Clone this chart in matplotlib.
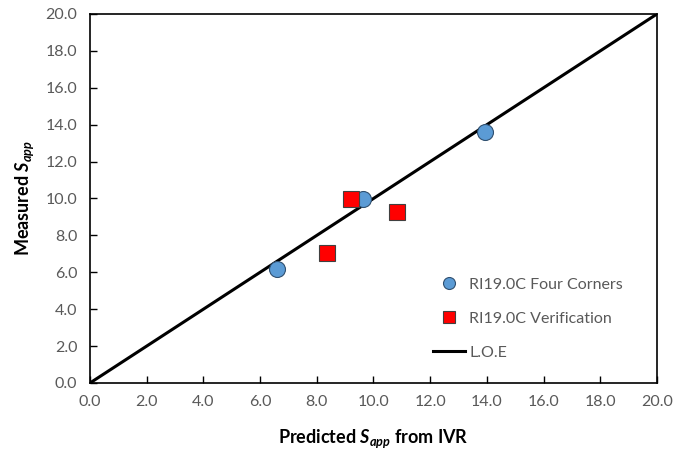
import matplotlib
matplotlib.use("Agg")
import matplotlib.pyplot as plt

plt.rcParams["font.family"] = ["Lato", "DejaVu Sans"]
plt.rcParams["mathtext.fontset"] = "custom"
plt.rcParams["mathtext.it"] = "Lato:italic:bold"
plt.rcParams["mathtext.rm"] = "Lato:bold"

# data
corners_pred = [6.61, 9.64, 13.93]
corners_meas = [6.18, 9.95, 13.62]
verif_pred = [8.35, 9.21, 10.82]
verif_meas = [7.03, 9.97, 9.28]
loe = [0.0, 20.0]
ticks = [0, 2, 4, 6, 8, 10, 12, 14, 16, 18, 20]

fig = plt.figure(figsize=(6.73, 4.54), dpi=100)
ax = fig.add_axes([0.1337, 0.1564, 0.8425, 0.8128])

ax.plot(loe, loe, color="black", lw=2.2, label="L.O.E", zorder=2)
ax.plot(corners_pred, corners_meas, "o", ms=11.5, mfc="#5b9bd5", mec="#2f4f6f",
        mew=0.8, label="RI19.0C Four Corners", zorder=3)
ax.plot(verif_pred, verif_meas, "s", ms=11.5, mfc="#ff0000", mec="#404040",
        mew=0.8, label="RI19.0C Verification", zorder=4)

ax.set_xlim(0, 20)
ax.set_ylim(0, 20)
ax.set_xticks(ticks)
ax.set_yticks(ticks)
ax.set_xticklabels([f"{t:.1f}" for t in ticks])
ax.set_yticklabels([f"{t:.1f}" for t in ticks])
ax.tick_params(direction="in", length=5, width=1, labelsize=11.5,
               labelcolor="#595959", pad=9)
for s in ax.spines.values():
    s.set_linewidth(1.2)

ax.set_xlabel(r"Predicted $S_{app}$ from IVR", fontsize=13, fontweight="bold",
              labelpad=13)
ax.set_ylabel(r"Measured $S_{app}$", fontsize=13, fontweight="bold", labelpad=7)

h, l = ax.get_legend_handles_labels()
order = [1, 2, 0]
leg = ax.legend([h[i] for i in order], [l[i] for i in order], loc="lower left",
                bbox_to_anchor=(0.593, 0.045), frameon=False, fontsize=11.5,
                labelspacing=1.25, handlelength=2.0, handletextpad=0.3,
                markerscale=0.75, borderaxespad=0)
for t in leg.get_texts():
    t.set_color("#595959")

fig.savefig("out.png", dpi=100)
